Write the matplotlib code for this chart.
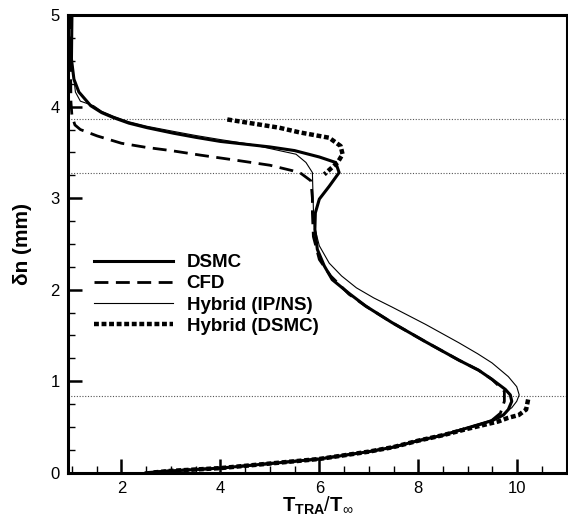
import matplotlib
matplotlib.use("Agg")
import matplotlib.pyplot as plt
from matplotlib.ticker import MultipleLocator

plt.rcParams['font.family'] = ['Liberation Sans', 'DejaVu Sans']
plt.rcParams['mathtext.fontset'] = 'custom'
plt.rcParams['mathtext.rm'] = 'Liberation Sans'
plt.rcParams['mathtext.bf'] = 'Liberation Sans:bold'

# ---- data ----
dsmc_T = [1.0, 0.99, 1.04, 1.14, 1.38, 1.6, 1.84, 2.15, 2.52, 3.05, 3.5, 4.0, 4.5, 5.0, 5.5,
          6.0, 6.33, 6.40,
          6.2, 6.0, 5.92, 5.91, 5.96, 6.1, 6.26, 6.6, 6.94, 7.47, 8.15, 8.82,
          9.22, 9.49, 9.76, 9.86, 9.89, 9.82, 9.72, 9.5, 9.0, 8.5, 8.0, 7.5, 7.0,
          6.5, 6.0, 5.5, 5.0, 4.5, 4.0, 3.5, 3.0, 2.5]
dsmc_dn = [5.0, 4.52, 4.30, 4.16, 4.01, 3.935, 3.88, 3.82, 3.77, 3.71, 3.665, 3.62, 3.59, 3.56, 3.52,
           3.45, 3.39, 3.28,
           3.13, 2.99, 2.84, 2.66, 2.44, 2.26, 2.11, 1.96, 1.82, 1.64, 1.43, 1.23,
           1.12, 1.02, 0.91, 0.85, 0.78, 0.69, 0.63, 0.57, 0.49, 0.41, 0.35, 0.28, 0.23,
           0.19, 0.15, 0.125, 0.10, 0.075, 0.05, 0.035, 0.02, 0.0]

cfd_T = [0.97, 0.97, 0.98, 1.0, 1.06, 1.17, 1.51, 2.0, 2.5, 3.0, 3.6, 4.25, 5.0, 5.46, 5.63,
         5.83, 5.86, 5.86, 5.88, 6.0, 6.23, 6.6, 6.94, 7.47, 8.15, 8.82,
         9.22, 9.49, 9.74, 9.74, 9.66, 9.46, 9.0, 8.5, 8.0, 7.5, 7.0,
         6.5, 6.0, 5.5, 5.0, 4.5, 4.0, 3.5, 3.0, 2.5]
cfd_dn = [5.0, 4.5, 4.05, 3.9, 3.80, 3.75, 3.68, 3.60, 3.555, 3.52, 3.47, 3.42, 3.36, 3.30, 3.27,
          3.19, 3.0, 2.84, 2.58, 2.33, 2.15, 1.95, 1.82, 1.64, 1.43, 1.23,
          1.12, 1.02, 0.89, 0.78, 0.65, 0.56, 0.49, 0.41, 0.35, 0.28, 0.23,
          0.19, 0.15, 0.125, 0.10, 0.075, 0.05, 0.035, 0.02, 0.0]

ipns_T = [1.0, 1.0, 1.07, 1.17, 1.44, 1.6, 1.84, 2.15, 2.52, 3.05, 3.5, 4.0, 4.6, 5.19, 5.53,
          5.73, 5.86,
          5.88, 5.9, 6.0, 6.2, 6.45, 6.75, 7.1, 7.47, 8.15, 8.82, 9.2, 9.49, 9.82,
          9.99, 10.04, 9.99, 9.89, 9.69, 9.49, 9.0, 8.5, 8.0, 7.5, 7.0,
          6.5, 6.0, 5.5, 5.0, 4.5, 4.0, 3.5, 3.0, 2.5]
ipns_dn = [5.0, 4.5, 4.16, 4.06, 4.01, 3.95, 3.895, 3.835, 3.785, 3.73, 3.685, 3.64, 3.59, 3.52, 3.48,
           3.39, 3.28,
           2.88, 2.69, 2.48, 2.29, 2.15, 2.02, 1.91, 1.81, 1.62, 1.42, 1.30, 1.20, 1.05,
           0.94, 0.85, 0.78, 0.71, 0.63, 0.58, 0.49, 0.41, 0.35, 0.28, 0.23,
           0.19, 0.15, 0.125, 0.10, 0.075, 0.05, 0.035, 0.02, 0.0]

hyb_up_T = [4.14, 5.19, 5.59, 6.20, 6.43, 6.47, 6.37, 6.10]
hyb_up_dn = [3.86, 3.77, 3.72, 3.66, 3.57, 3.48, 3.39, 3.26]
hyb_lo_T = [10.22, 10.18, 10.03, 9.82, 9.62, 9.0, 8.5, 8.0, 7.5, 7.0,
            6.5, 6.0, 5.5, 5.0, 4.5, 4.0, 3.5, 3.0, 2.6]
hyb_lo_dn = [0.80, 0.69, 0.63, 0.60, 0.56, 0.48, 0.41, 0.35, 0.28, 0.23,
             0.19, 0.15, 0.125, 0.10, 0.075, 0.05, 0.035, 0.02, 0.0]

ref_lines = [3.87, 3.275, 0.843]

# ---- figure ----
fig = plt.figure(figsize=(5.68, 5.17), dpi=100)
ax = fig.add_axes([0.1197, 0.0857, 0.878, 0.885])

for yv in ref_lines:
    ax.axhline(yv, color='#555555', lw=0.8, ls=(0, (1, 1.5)), zorder=1)

ax.plot(dsmc_T, dsmc_dn, color='black', lw=2.2, label='DSMC', zorder=4,
        solid_joinstyle='round')
ax.plot(cfd_T, cfd_dn, color='black', lw=2.0, ls=(0, (5, 2.7)), label='CFD', zorder=3)
ax.plot(ipns_T, ipns_dn, color='black', lw=0.8, label='Hybrid (IP/NS)', zorder=5)
ax.plot(hyb_up_T, hyb_up_dn, color='black', lw=3.2, ls=(0, (1.1, 0.6)),
        label='Hybrid (DSMC)', zorder=6)
ax.plot(hyb_lo_T, hyb_lo_dn, color='black', lw=3.2, ls=(0, (1.1, 0.6)), zorder=6)

ax.set_xlim(0.92, 11.0)
ax.set_ylim(0, 5)
ax.set_xticks([2, 4, 6, 8, 10])
ax.xaxis.set_minor_locator(MultipleLocator(0.5))
ax.yaxis.set_major_locator(MultipleLocator(1))
ax.yaxis.set_minor_locator(MultipleLocator(0.25))
ax.tick_params(which='major', direction='in', length=10, width=1.8, labelsize=12, pad=6)
ax.tick_params(which='minor', direction='in', length=5, width=1.0)
for s in ax.spines.values():
    s.set_linewidth(2.2)

ax.set_xlabel(r'$\mathbf{T}_{\mathbf{TRA}}/\mathbf{T}_{\infty}$', fontsize=14.5, labelpad=-1)
ax.set_ylabel('δn (mm)', fontsize=15, fontweight='bold', labelpad=13)

leg = ax.legend(loc='upper left', bbox_to_anchor=(0.052, 0.478), frameon=False,
                prop={'weight': 'bold', 'size': 13.5}, handlelength=4.2,
                handletextpad=0.75, labelspacing=0.22, borderpad=0, borderaxespad=0)

fig.savefig('out.png', dpi=100)
